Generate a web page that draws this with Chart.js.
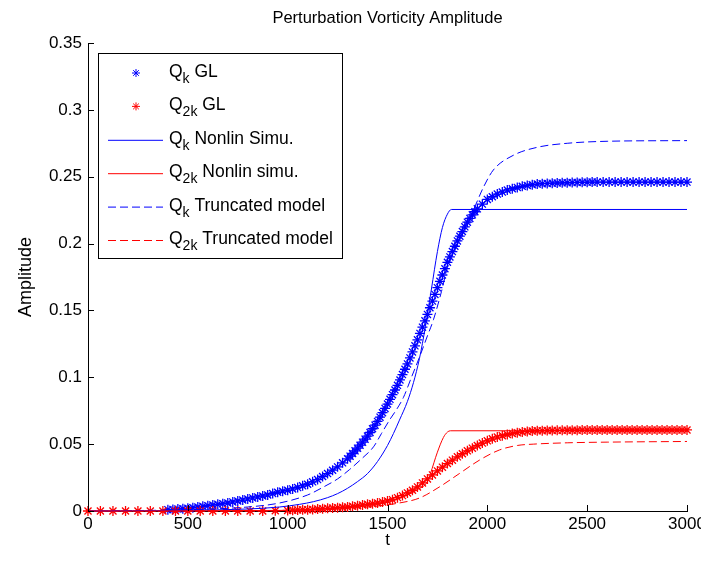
<!DOCTYPE html>
<html>
<head>
<meta charset="utf-8">
<script src="https://cdn.jsdelivr.net/npm/chart.js@4/dist/chart.umd.min.js"></script>
<style>
  html, body { margin: 0; padding: 0; background: #fff; }
  #wrap { width: 701px; height: 561px; }
</style>
</head>
<body>
<div id="wrap"><canvas id="c" width="701" height="561"></canvas></div>
<script>
// ---------- DATA ----------
const chartTitle = "Perturbation Vorticity Amplitude";
const xTitle = "t";
const yTitle = "Amplitude";
const xTickValues = [0, 500, 1000, 1500, 2000, 2500, 3000];
const yTickValues = [0, 0.05, 0.1, 0.15, 0.2, 0.25, 0.3, 0.35];

// Q_k GL (blue stars)
const qkGL_t = [400,425,450,475,500,525,550,575,600,625,650,675,700,725,750,775,800,825,850,875,
  900,925,950,975,1000,1025,1050,1075,1100,1125,1150,1175,1200,1225,1250,1275,
  1300,1312.5,1325,1337.5,1350,1362.5,1375,1387.5,1400,1412.5,1425,1437.5,1450,1462.5,1475,1487.5,
  1500,1512.5,1525,1537.5,1550,1562.5,1575,1587.5,1600,1612.5,1625,1637.5,1650,1662.5,1675,1687.5,
  1700,1712.5,1725,1737.5,1750,1762.5,1775,1787.5,1800,1812.5,1825,1837.5,1850,1862.5,1875,1887.5,
  1900,1912.5,1925,1937.5,1950,1975,2000,2025,2050,2075,2100,2125,2150,2175,2200,2225,2250,2275,2300,2325,2350,2375,
  2400,2425,2450,2475,2500,2525,2550,2580,2610,2640,2670,2700,2730,2760,2790,2820,2850,2880,2910,2940,2970,3000];
const qkGL_v = [0.0010,0.0012,0.0015,0.0017,0.0020,0.0025,0.0030,0.0035,0.0040,0.0045,0.0050,0.0055,0.0060,0.0068,0.0075,0.0082,0.0090,0.0098,0.0105,0.0112,
  0.0120,0.0130,0.0140,0.0148,0.0155,0.0165,0.0175,0.0188,0.0200,0.0218,0.0235,0.0258,0.0280,0.0305,0.0330,0.0360,
  0.0390,0.0410,0.0430,0.0450,0.0470,0.0492,0.0515,0.0537,0.0560,0.0587,0.0615,0.0642,0.0670,0.0702,0.0735,0.0767,
  0.0800,0.0835,0.0870,0.0905,0.0940,0.0980,0.1020,0.1060,0.1100,0.1145,0.1190,0.1235,0.1280,0.1328,0.1375,0.1422,
  0.1470,0.1520,0.1570,0.1620,0.1670,0.1718,0.1765,0.1812,0.1860,0.1900,0.1940,0.1980,0.2020,0.2055,0.2090,0.2125,
  0.2160,0.2188,0.2215,0.2238,0.2260,0.2295,0.2330,0.2350,0.2370,0.2385,0.2400,0.2410,0.2420,0.2428,0.2435,0.2440,0.2445,0.2448,0.2450,0.2452,0.2453,0.2454,
  0.2455,0.2456,0.2457,0.2458,0.2459,0.2460,0.2460,0.2460,0.2460,0.2460,0.2460,0.2460,0.2460,0.2460,0.2460,0.2460,0.2460,0.2460,0.2460,0.2460,0.2460,0.2460];

// Q_2k GL (red stars)
const q2kGL_t = [0,62,125,188,250,312,375,438,500,562,625,688,750,812,875,938,1000,1025,1050,1075,
  1100,1125,1150,1175,1200,1225,1250,1275,1300,1325,1350,1375,1400,1425,1450,1475,1500,1525,1550,1575,
  1600,1625,1650,1675,1700,1725,1750,1775,1800,1825,1850,1875,1900,1925,1950,1975,2000,2025,2050,2075,
  2100,2125,2150,2175,2200,2225,2250,2275,2300,2325,2350,2375,2400,2425,2450,2475,2500,2525,2550,2575,
  2600,2625,2650,2675,2700,2725,2750,2775,2800,2825,2850,2875,2900,2925,2950,2975,3000];
const q2kGL_v = [0,0,0,0,0,0,0,0,0,0,0,0,0,0,0,0.0002,0.0004,0.0006,0.0008,0.0009,
  0.0010,0.0012,0.0015,0.0017,0.0020,0.0022,0.0025,0.0028,0.0030,0.0035,0.0040,0.0045,0.0050,0.0055,0.0060,0.0068,0.0075,0.0085,0.0100,0.0115,
  0.0135,0.0155,0.0180,0.0210,0.0240,0.0270,0.0300,0.0328,0.0355,0.0380,0.0405,0.0428,0.0450,0.0470,0.0490,0.0508,0.0525,0.0540,0.0553,0.0563,
  0.0572,0.0580,0.0586,0.0591,0.0595,0.0598,0.0600,0.0601,0.0602,0.0602,0.0603,0.0603,0.0604,0.0604,0.0604,0.0605,0.0605,0.0605,0.0605,0.0606,
  0.0606,0.0606,0.0606,0.0606,0.0606,0.0606,0.0606,0.0606,0.0606,0.0606,0.0606,0.0606,0.0606,0.0606,0.0606,0.0606,0.0606];

// Q_k Nonlin Simu. (blue solid)
const qkNL_t = [0,500,800,960,1060,1130,1200,1250,1300,1350,1400,1450,1500,1530,1560,1600,1630,1660,1690,1720,1750,1775,1800,1820,3000];
const qkNL_v = [0,0.0005,0.0015,0.003,0.005,0.007,0.010,0.013,0.017,0.022,0.028,0.037,0.049,0.058,0.068,0.082,0.096,0.114,0.138,0.166,0.194,0.212,0.222,0.2255,0.2255];

// Q_2k Nonlin simu. (red solid)
const q2kNL_t = [0,1000,1200,1400,1500,1600,1650,1700,1715,1750,1780,1800,1815,3000];
const q2kNL_v = [0,0.0005,0.0015,0.004,0.007,0.012,0.016,0.022,0.028,0.044,0.055,0.059,0.060,0.060];

// Q_k Truncated model (blue dashed)
const qkTR_t = [0,500,800,960,1100,1180,1250,1310,1370,1430,1470,1510,1550,1580,1620,1660,1700,1730,1770,1800,1850,1900,1930,1980,2030,2130,2250,2400,2600,3000];
const qkTR_v = [0,0.001,0.003,0.006,0.012,0.018,0.024,0.031,0.039,0.048,0.058,0.068,0.077,0.085,0.100,0.115,0.131,0.143,0.164,0.182,0.200,0.216,0.225,0.242,0.255,0.266,0.272,0.275,0.2765,0.277];

// Q_2k Truncated model (red dashed)
const q2kTR_t = [0,1000,1200,1400,1560,1660,1760,1860,1960,2060,2150,2230,2400,2600,3000];
const q2kTR_v = [0,0.0003,0.001,0.003,0.006,0.0097,0.018,0.028,0.038,0.0456,0.049,0.050,0.051,0.0515,0.052];

// ---------- helpers ----------
const pts = (ts, vs) => ts.map((t, i) => ({ x: t, y: vs[i] }));
const BLUE = '#0000ff', RED = '#ff0000';
const FONT = '"Liberation Sans", Arial, Helvetica, sans-serif';

const legendItems = [
  { sub: 'k',  rest: ' GL', color: BLUE, kind: 'star' },
  { sub: '2k', rest: ' GL', color: RED, kind: 'star' },
  { sub: 'k',  rest: ' Nonlin Simu.', color: BLUE, kind: 'solid' },
  { sub: '2k', rest: ' Nonlin simu.', color: RED, kind: 'solid' },
  { sub: 'k',  rest: ' Truncated model', color: BLUE, kind: 'dash' },
  { sub: '2k', rest: ' Truncated model', color: RED, kind: 'dash' }
];

function drawStar(ctx, cx, cy, r) {
  ctx.beginPath();
  ctx.moveTo(cx - r, cy); ctx.lineTo(cx + r, cy);
  ctx.moveTo(cx, cy - r); ctx.lineTo(cx, cy + r);
  const d = r * 0.7071;
  ctx.moveTo(cx - d, cy - d); ctx.lineTo(cx + d, cy + d);
  ctx.moveTo(cx - d, cy + d); ctx.lineTo(cx + d, cy - d);
  ctx.stroke();
}

const titleAndTicks = {
  id: 'titleAndTicks',
  afterDraw(chart) {
    const ctx = chart.ctx, a = chart.chartArea;
    const xs = chart.scales.x, ys = chart.scales.y;
    ctx.save();
    ctx.strokeStyle = '#000';
    ctx.lineWidth = 1;
    ctx.beginPath();
    xs.ticks.forEach(t => {
      const px = Math.round(xs.getPixelForValue(t.value)) + 0.5;
      ctx.moveTo(px, a.bottom); ctx.lineTo(px, a.bottom - 6);
    });
    ys.ticks.forEach(t => {
      const py = Math.round(ys.getPixelForValue(t.value)) + 0.5;
      ctx.moveTo(a.left, py); ctx.lineTo(a.left + 6, py);
    });
    ctx.stroke();
    ctx.fillStyle = '#000';
    ctx.font = '16.5px ' + FONT;
    ctx.textAlign = 'center';
    ctx.textBaseline = 'middle';
    ctx.fillText(chartTitle, (a.left + a.right) / 2, 18);
    ctx.restore();
  }
};

const customLegend = {
  id: 'customLegend',
  afterDraw(chart) {
    const ctx = chart.ctx, a = chart.chartArea;
    const bx = a.left + 10, by = a.top + 10, bw = 244, bh = 205;
    ctx.save();
    ctx.fillStyle = '#fff';
    ctx.fillRect(bx, by, bw, bh);
    ctx.strokeStyle = '#000';
    ctx.lineWidth = 1;
    ctx.strokeRect(bx + 0.5, by + 0.5, bw, bh);
    legendItems.forEach((it, i) => {
      const cy = by + 20 + i * 33.4;
      ctx.strokeStyle = it.color;
      ctx.lineWidth = 1;
      if (it.kind === 'star') {
        drawStar(ctx, bx + 38, cy, 4);
      } else {
        ctx.setLineDash(it.kind === 'dash' ? [8, 4] : []);
        ctx.beginPath();
        ctx.moveTo(bx + 10, cy + 0.5); ctx.lineTo(bx + 65, cy + 0.5);
        ctx.stroke();
        ctx.setLineDash([]);
      }
      let tx = bx + 71;
      ctx.fillStyle = '#000';
      ctx.textBaseline = 'alphabetic';
      ctx.textAlign = 'left';
      ctx.font = '17.5px ' + FONT;
      ctx.fillText('Q', tx, cy + 4);
      tx += ctx.measureText('Q').width;
      ctx.font = '14px ' + FONT;
      ctx.fillText(it.sub, tx, cy + 10);
      tx += ctx.measureText(it.sub).width;
      ctx.font = '17.5px ' + FONT;
      ctx.fillText(it.rest, tx, cy + 4);
    });
    ctx.restore();
  }
};

const starDS = (label, ts, vs, color, order) => ({
  label, data: pts(ts, vs), showLine: false,
  pointStyle: 'star', pointRadius: 5, pointBorderWidth: 1.3,
  borderColor: color, backgroundColor: color, pointBorderColor: color,
  clip: false, order
});
const lineDS = (label, ts, vs, color, dash, order) => ({
  label, data: pts(ts, vs), showLine: true, pointRadius: 0,
  borderColor: color, backgroundColor: color, borderWidth: 1, borderDash: dash,
  cubicInterpolationMode: 'monotone', fill: false, clip: false, order
});

new Chart(document.getElementById('c'), {
  type: 'scatter',
  data: {
    datasets: [
      starDS('Qk GL', qkGL_t, qkGL_v, BLUE, 6),
      starDS('Q2k GL', q2kGL_t, q2kGL_v, RED, 5),
      lineDS('Qk Nonlin Simu.', qkNL_t, qkNL_v, BLUE, [], 4),
      lineDS('Q2k Nonlin simu.', q2kNL_t, q2kNL_v, RED, [], 3),
      lineDS('Qk Truncated model', qkTR_t, qkTR_v, BLUE, [8, 4], 2),
      lineDS('Q2k Truncated model', q2kTR_t, q2kTR_v, RED, [8, 4], 1)
    ]
  },
  options: {
    responsive: false,
    animation: false,
    layout: { padding: { left: 0, right: 14, top: 43, bottom: 0 }, autoPadding: false },
    plugins: {
      legend: { display: false },
      tooltip: { enabled: false },
      title: { display: false }
    },
    scales: {
      x: {
        type: 'linear', min: 0, max: 3000,
        afterFit: s => { s.height = 50; s.paddingLeft = 0; s.paddingRight = 0; },
        afterBuildTicks: s => { s.ticks = xTickValues.map(v => ({ value: v })); },
        ticks: { color: '#000', font: { family: FONT, size: 17 }, padding: 3, maxRotation: 0,
          callback: v => String(v) },
        grid: { display: false, drawTicks: false },
        border: { display: true, color: '#000', width: 1 },
        title: { display: true, text: xTitle, color: '#000', font: { family: FONT, size: 17 },
          padding: { top: 0, bottom: 10 } }
      },
      y: {
        type: 'linear', min: 0, max: 0.35,
        afterFit: s => { s.width = 88; s.paddingTop = 0; s.paddingBottom = 0; },
        afterBuildTicks: s => { s.ticks = yTickValues.map(v => ({ value: v })); },
        ticks: { color: '#000', font: { family: FONT, size: 17 }, padding: 6,
          callback: v => String(parseFloat(Number(v).toFixed(2))) },
        grid: { display: false, drawTicks: false },
        border: { display: true, color: '#000', width: 1 },
        title: { display: true, text: yTitle, color: '#000', font: { family: FONT, size: 18 },
          padding: { top: 15, bottom: 0 } }
      }
    }
  },
  plugins: [titleAndTicks, customLegend]
});
</script>
</body>
</html>
